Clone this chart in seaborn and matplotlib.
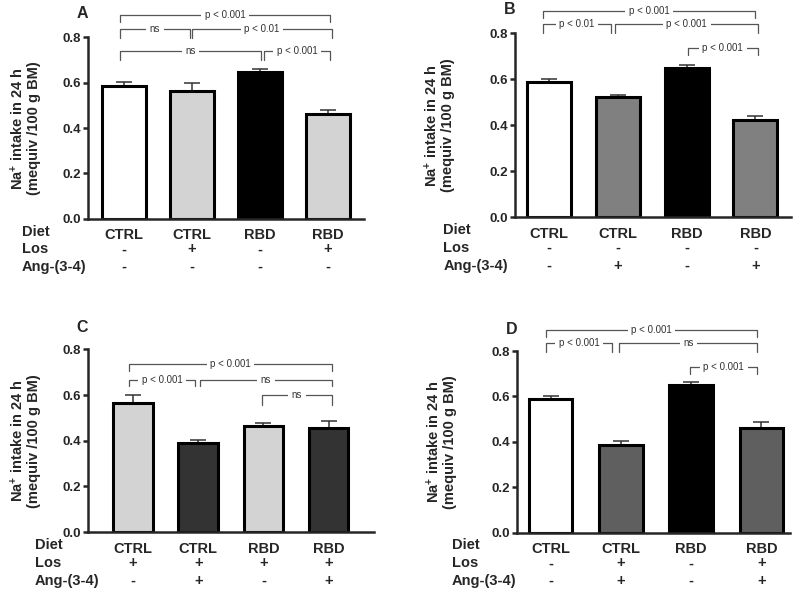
import numpy as np
import pandas as pd
import matplotlib
matplotlib.use("Agg")
import matplotlib.pyplot as plt
import seaborn as sns

# ---------------- data ----------------
diet = ["CTRL", "CTRL", "RBD", "RBD"]

los_A = ["-", "+", "-", "+"]
ang_A = ["-", "-", "-", "-"]
values_A = [0.586, 0.564, 0.648, 0.462]
err_A = [0.016, 0.035, 0.010, 0.016]
colors_A = ["#ffffff", "#d3d3d3", "#000000", "#d3d3d3"]
comparisons_A = [(0, 3, "p < 0.001"), (0, 1, "ns"), (1, 3, "p < 0.01"),
                 (0, 2, "ns"), (2, 3, "p < 0.001")]

los_B = ["-", "-", "-", "-"]
ang_B = ["-", "+", "-", "+"]
values_B = [0.588, 0.520, 0.649, 0.422]
err_B = [0.013, 0.010, 0.012, 0.017]
colors_B = ["#ffffff", "#808080", "#000000", "#808080"]
comparisons_B = [(0, 3, "p < 0.001"), (0, 1, "p < 0.01"), (1, 3, "p < 0.001"),
                 (2, 3, "p < 0.001")]

los_C = ["+", "+", "+", "+"]
ang_C = ["-", "+", "-", "+"]
values_C = [0.566, 0.388, 0.465, 0.456]
err_C = [0.034, 0.015, 0.013, 0.031]
colors_C = ["#d3d3d3", "#333333", "#d3d3d3", "#333333"]
comparisons_C = [(0, 3, "p < 0.001"), (0, 1, "p < 0.001"), (1, 3, "ns"),
                 (2, 3, "ns")]

los_D = ["-", "+", "-", "+"]
ang_D = ["-", "+", "-", "+"]
values_D = [0.588, 0.388, 0.651, 0.460]
err_D = [0.016, 0.018, 0.013, 0.029]
colors_D = ["#ffffff", "#5f5f5f", "#000000", "#5f5f5f"]
comparisons_D = [(0, 3, "p < 0.001"), (0, 1, "p < 0.001"), (1, 3, "ns"),
                 (2, 3, "p < 0.001")]

row_names = ["Diet", "Los", "Ang-(3-4)"]
ylabel = "Na$^{+}$ intake in 24 h\n(mequiv /100 g BM)"

# ---------------- layout ----------------
# bracket geometry: (x_left, x_right, y_top, y_leg_bottom) in data units
br_layout_A = [(-0.06, 3.03, 0.897, 0.868), (-0.06, 0.97, 0.835, 0.796),
               (1.00, 3.06, 0.835, 0.796), (-0.06, 2.02, 0.738, 0.699),
               (2.06, 3.03, 0.738, 0.699)]
br_layout_B = [(-0.09, 3.00, 0.896, 0.865), (-0.09, 0.90, 0.838, 0.800),
               (0.96, 3.04, 0.838, 0.800), (2.02, 3.03, 0.736, 0.704)]
br_layout_C = [(-0.06, 3.05, 0.7375, 0.705), (-0.06, 0.95, 0.6675, 0.638),
               (1.03, 3.05, 0.6675, 0.638), (1.98, 3.05, 0.599, 0.555)]
br_layout_D = [(-0.07, 2.94, 0.892, 0.862), (-0.07, 0.88, 0.834, 0.797),
               (0.98, 2.94, 0.834, 0.797), (1.99, 2.94, 0.731, 0.699)]

sns.set_style("ticks")
plt.rcParams["font.family"] = ["Liberation Sans", "DejaVu Sans"]
plt.rcParams["mathtext.fontset"] = "custom"
plt.rcParams["mathtext.rm"] = "Liberation Sans:bold"
plt.rcParams["mathtext.bf"] = "Liberation Sans:bold"
plt.rcParams["mathtext.default"] = "bf"

fig = plt.figure(figsize=(8, 5.9), dpi=100)

panels = [
    dict(letter="A", rect=[0.110, 0.629, 0.345, 0.308], vals=values_A, err=err_A,
         colors=colors_A, los=los_A, ang=ang_A, comps=comparisons_A, lay=br_layout_A,
         xlim=(-0.53, 3.53), width=0.64, rowx=-0.239, ylx=-0.17, lx=-0.02),
    dict(letter="B", rect=[0.644, 0.632, 0.345, 0.312], vals=values_B, err=err_B,
         colors=colors_B, los=los_B, ang=ang_B, comps=comparisons_B, lay=br_layout_B,
         xlim=(-0.494, 3.52), width=0.64, rowx=-0.26, ylx=-0.217, lx=-0.02),
    dict(letter="C", rect=[0.110, 0.098, 0.357, 0.310], vals=values_C, err=err_C,
         colors=colors_C, los=los_C, ang=ang_C, comps=comparisons_C, lay=br_layout_C,
         xlim=(-0.69, 3.69), width=0.61, rowx=-0.186, ylx=-0.165, lx=-0.02),
    dict(letter="D", rect=[0.646, 0.097, 0.341, 0.308], vals=values_D, err=err_D,
         colors=colors_D, los=los_D, ang=ang_D, comps=comparisons_D, lay=br_layout_D,
         xlim=(-0.48, 3.40), width=0.62, rowx=-0.238, ylx=-0.22, lx=-0.02),
]

for p in panels:
    ax = fig.add_axes(p["rect"])
    groups = [f"{d}|{l}|{a}" for d, l, a in zip(diet, p["los"], p["ang"])]
    df = pd.DataFrame({"group": groups, "value": p["vals"]})
    sns.barplot(data=df, x="group", y="value", hue="group", palette=p["colors"],
                order=groups, hue_order=groups, legend=False, errorbar=None,
                edgecolor="black", linewidth=2.2, width=p["width"], ax=ax, zorder=2)
    ax.errorbar(np.arange(4), p["vals"], yerr=[np.zeros(4), p["err"]], fmt="none",
                ecolor="#333333", elinewidth=1.1, capsize=6, capthick=1.1, zorder=1)
    ax.set_xlim(*p["xlim"])
    ax.set_ylim(0, 0.8)
    ax.set_yticks([0, 0.2, 0.4, 0.6, 0.8])
    ax.set_yticklabels([f"{v:.1f}" for v in [0, 0.2, 0.4, 0.6, 0.8]],
                       fontsize=9.5, fontweight="bold")
    ax.set_xticks([])
    ax.set_xlabel("")
    ax.set_ylabel(ylabel, fontsize=10.5, fontweight="bold", linespacing=1.05)
    ax.yaxis.set_label_coords(p["ylx"], 0.5)
    for s in ["top", "right"]:
        ax.spines[s].set_visible(False)
    for s in ["left", "bottom"]:
        ax.spines[s].set_linewidth(1.8)
    ax.tick_params(axis="y", length=3.5, width=1.8, pad=1.5)
    ax.set_facecolor("none")

    tr = ax.get_xaxis_transform()
    # row labels
    for name, yy in zip(row_names, [-0.07, -0.168, -0.265]):
        ax.text(p["rowx"], yy, name, transform=ax.transAxes, ha="left", va="center",
                fontsize=10.5, fontweight="bold")
    for i in range(4):
        ax.text(i, -0.09, diet[i], transform=tr, ha="center", va="center",
                fontsize=10.5, fontweight="bold")
        ax.text(i, -0.168, p["los"][i], transform=tr, ha="center", va="center",
                fontsize=10.5, fontweight="bold")
        ax.text(i, -0.265, p["ang"][i], transform=tr, ha="center", va="center",
                fontsize=10.5, fontweight="bold")

    # panel letter
    ax.text(p["lx"], 1.13 if p["letter"] in "AB" else 1.12, p["letter"],
            transform=ax.transAxes, ha="center", va="center",
            fontsize=11.5, fontweight="bold")

    # significance brackets
    for (i, j, lab), (x1, x2, yt, yb) in zip(p["comps"], p["lay"]):
        ax.plot([x1, x1, x2, x2], [yb, yt, yt, yb], color="#555555", lw=0.9,
                clip_on=False, zorder=4)
        ax.text((x1 + x2) / 2, yt, lab, ha="center", va="center", fontsize=7,
                color="#333333", zorder=5, clip_on=False,
                bbox=dict(facecolor="white", edgecolor="none", pad=2.5))

fig.savefig("out.png", dpi=100, facecolor="white")
